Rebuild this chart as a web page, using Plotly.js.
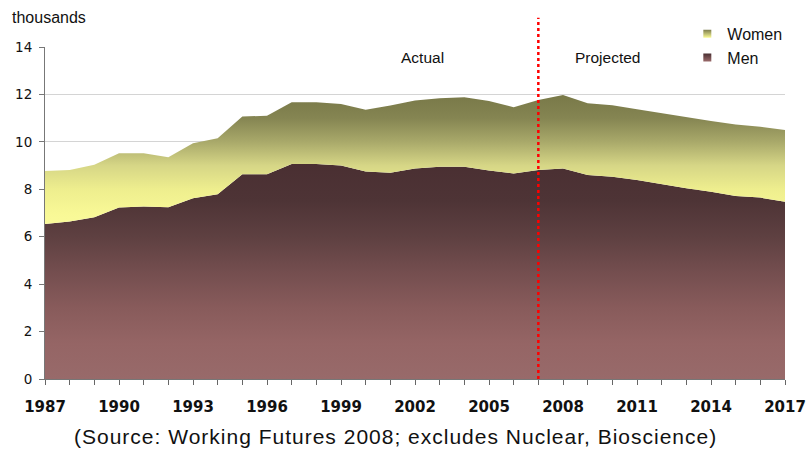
<!DOCTYPE html>
<html>
<head>
<meta charset="utf-8">
<script src="https://cdn.plot.ly/plotly-3.0.1.min.js"></script>
<style>
  html, body { margin: 0; padding: 0; background: #ffffff; }
  #chart { width: 806px; height: 450px; }
  /* slightly tracked-out source line */
  #chart .annotation[data-index="3"] text { letter-spacing: 1px; }
</style>
</head>
<body>
<div id="chart"></div>
<script>
// Employment, thousands, 1987-2017 (actual to 2007, projected after)
const years = [1987, 1988, 1989, 1990, 1991, 1992, 1993, 1994, 1995, 1996,
               1997, 1998, 1999, 2000, 2001, 2002, 2003, 2004, 2005, 2006,
               2007, 2008, 2009, 2010, 2011, 2012, 2013, 2014, 2015, 2016, 2017];

const men = [6.54, 6.64, 6.82, 7.23, 7.27, 7.24, 7.62, 7.79, 8.63, 8.63,
             9.07, 9.07, 9.00, 8.75, 8.70, 8.88, 8.95, 8.95, 8.79, 8.67,
             8.81, 8.88, 8.60, 8.53, 8.39, 8.21, 8.04, 7.90, 7.72, 7.65, 7.47];

const women = [2.23, 2.17, 2.21, 2.29, 2.25, 2.11, 2.32, 2.36, 2.44, 2.47,
               2.60, 2.60, 2.60, 2.60, 2.83, 2.86, 2.89, 2.93, 2.93, 2.79,
               2.96, 3.10, 3.03, 3.01, 2.98, 2.99, 3.00, 2.98, 3.01, 2.99, 3.03];

const labelYears = [1987, 1990, 1993, 1996, 1999, 2002, 2005, 2008, 2011, 2014, 2017];
const splitYear = 2007;

// gradient palettes (bottom -> top)
const menScale = [[0, '#986a6a'], [0.165, '#956565'], [0.33, '#885b5b'],
                  [0.495, '#744e4f'], [0.66, '#5e4041'], [0.824, '#4e3436'], [1, '#4a2f32']];
const womenScale = [[0, '#fafa9a'], [0.091, '#f8f896'], [0.273, '#eeee8e'],
                    [0.455, '#d6d686'], [0.636, '#a9a96a'], [0.818, '#858552'], [1, '#787848']];

const menTrace = {
  x: years, y: men, name: 'Men', type: 'scatter', mode: 'lines',
  stackgroup: 'jobs', showlegend: false,
  line: { width: 0, color: '#4a2f32' },
  fillcolor: '#6e4a4b',
  fillgradient: { type: 'vertical', start: 0, stop: 9.1, colorscale: menScale }
};

const womenTrace = {
  x: years, y: women, name: 'Women', type: 'scatter', mode: 'lines',
  stackgroup: 'jobs', showlegend: false,
  line: { width: 0, color: '#787848' },
  fillcolor: '#c8c87c',
  fillgradient: { type: 'vertical', start: 6.5, stop: 12, colorscale: womenScale }
};

// legend keys: small shaded squares
function legendKey(name, topColor, bottomColor, group) {
  return {
    x: [null], y: [null], name: name, type: 'scatter', mode: 'markers',
    legendgroup: group, showlegend: true, hoverinfo: 'skip',
    marker: { symbol: 'square', size: 8, color: topColor,
              gradient: { type: 'vertical', color: bottomColor },
              line: { width: 0 } }
  };
}

const font = 'Liberation Sans, Arial, sans-serif';

const layout = {
  width: 806, height: 450,
  margin: { l: 45, r: 21, t: 47, b: 71, autoexpand: false },
  paper_bgcolor: '#ffffff', plot_bgcolor: '#ffffff',
  font: { family: font, size: 14, color: '#111111' },
  showlegend: true,
  legend: {
    x: 0.868, xanchor: 'left', y: 1.091, yanchor: 'top',
    traceorder: 'grouped', tracegroupgap: 0,
    bgcolor: '#ffffff',
    font: { family: font, size: 16, color: '#111111' },
    itemwidth: 30
  },
  xaxis: {
    range: [1987, 2017],
    tickmode: 'array', tickvals: labelYears, ticktext: labelYears.map(String),
    ticks: 'outside', ticklen: 5, tickcolor: '#666666',
    minor: { dtick: 1, tick0: 1987, ticks: 'outside', ticklen: 5, tickcolor: '#666666', showgrid: false },
    showline: true, linecolor: '#777777', linewidth: 1,
    showgrid: false, zeroline: false,
    ticklabelstandoff: 9,
    tickfont: { family: 'DejaVu Sans, sans-serif', size: 15, color: '#111111', weight: 'bold' }
  },
  yaxis: {
    range: [0, 14], dtick: 2, tick0: 0,
    ticks: 'outside', ticklen: 5, tickcolor: '#777777',
    showline: true, linecolor: '#777777', linewidth: 1,
    showgrid: true, gridcolor: '#d4d4d4', gridwidth: 1,
    zeroline: false,
    ticklabelstandoff: 4,
    tickfont: { family: 'DejaVu Sans, sans-serif', size: 13.5, color: '#111111' }
  },
  shapes: [{
    type: 'line', xref: 'x', yref: 'paper',
    x0: splitYear, x1: splitYear, y0: 0, y1: 1.088,
    line: { color: '#ff0000', width: 2.5, dash: 'dot' }
  }],
  annotations: [
    { text: 'thousands', xref: 'paper', yref: 'paper', x: -0.047, y: 1.088,
      xanchor: 'left', yanchor: 'middle', showarrow: false,
      font: { family: font, size: 16, color: '#111111' } },
    { text: 'Actual', xref: 'x', yref: 'paper', x: 2002.3, y: 0.967,
      xanchor: 'center', yanchor: 'middle', showarrow: false,
      font: { family: font, size: 15.5, color: '#111111' } },
    { text: 'Projected', xref: 'x', yref: 'paper', x: 2009.8, y: 0.967,
      xanchor: 'center', yanchor: 'middle', showarrow: false,
      font: { family: font, size: 15.5, color: '#111111' } },
    { text: '(Source: Working Futures 2008; excludes Nuclear, Bioscience)',
      xref: 'paper', yref: 'paper', x: 0.473, y: -0.173,
      xanchor: 'center', yanchor: 'middle', showarrow: false,
      font: { family: font, size: 21, color: '#111111' } }
  ]
};

const traces = [
  menTrace, womenTrace,
  legendKey('Women', '#7c7c4c', '#fafa96', 'a'),
  legendKey('Men', '#4a2f32', '#9a6a6a', 'b')
];

Plotly.newPlot('chart', traces, layout, { displayModeBar: false, staticPlot: true });
</script>
</body>
</html>
